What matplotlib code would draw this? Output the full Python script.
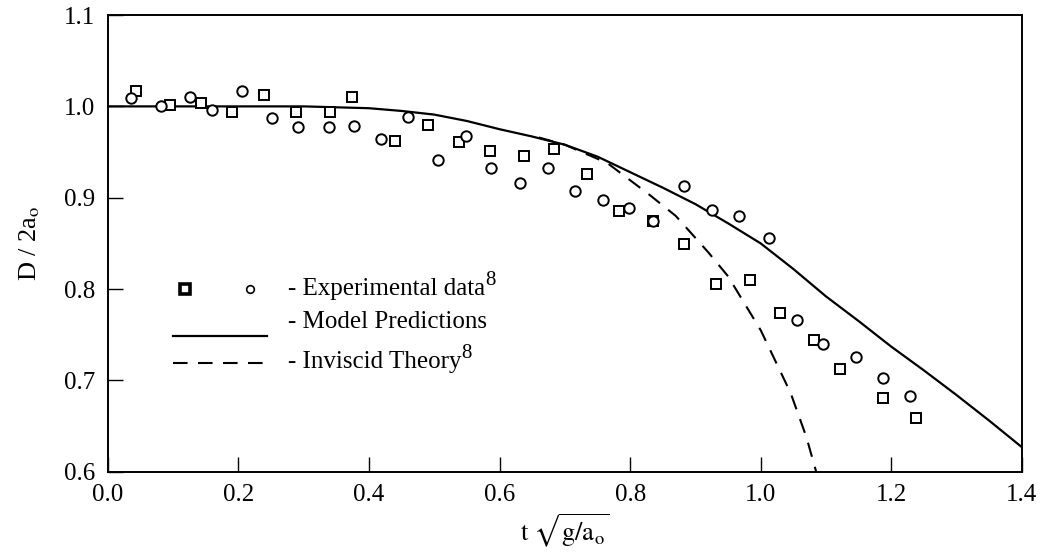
import matplotlib
matplotlib.use('Agg')
import matplotlib.pyplot as plt

plt.rcParams['font.family'] = ['Liberation Serif', 'DejaVu Serif']
plt.rcParams['mathtext.fontset'] = 'stix'

# experimental data, squares
sq_x = [0.043, 0.095, 0.142, 0.190, 0.239, 0.288, 0.340, 0.374, 0.440, 0.491,
        0.538, 0.585, 0.637, 0.684, 0.734, 0.783, 0.835, 0.883, 0.931, 0.983,
        1.030, 1.081, 1.121, 1.188, 1.238]
sq_y = [1.017, 1.002, 1.004, 0.994, 1.012, 0.994, 0.994, 1.010, 0.962, 0.980,
        0.961, 0.951, 0.946, 0.953, 0.926, 0.886, 0.875, 0.849, 0.806, 0.810,
        0.774, 0.744, 0.713, 0.681, 0.659]

# experimental data, circles
ci_x = [0.036, 0.082, 0.125, 0.159, 0.206, 0.251, 0.291, 0.338, 0.377, 0.418,
        0.459, 0.506, 0.549, 0.587, 0.631, 0.674, 0.715, 0.759, 0.799, 0.835,
        0.882, 0.926, 0.967, 1.012, 1.055, 1.096, 1.146, 1.188, 1.228]
ci_y = [1.009, 1.000, 1.010, 0.996, 1.017, 0.987, 0.977, 0.977, 0.978, 0.964,
        0.988, 0.941, 0.968, 0.933, 0.916, 0.933, 0.907, 0.897, 0.889, 0.875,
        0.913, 0.887, 0.880, 0.856, 0.766, 0.740, 0.726, 0.703, 0.683]

# model predictions
model_x = [0.0, 0.1, 0.2, 0.3, 0.4, 0.45, 0.5, 0.55, 0.6, 0.65, 0.7, 0.75, 0.8,
           0.85, 0.9, 0.95, 1.0, 1.05, 1.1, 1.15, 1.2, 1.25, 1.3, 1.35, 1.4]
model_y = [1.000, 1.000, 1.000, 1.000, 0.998, 0.995, 0.991, 0.984, 0.975, 0.967,
           0.958, 0.945, 0.928, 0.911, 0.893, 0.872, 0.850, 0.822, 0.792, 0.765,
           0.737, 0.711, 0.684, 0.656, 0.627]

# inviscid theory
inv_x = [0.66, 0.7, 0.765, 0.83, 0.87, 0.92, 0.95, 1.0, 1.046, 1.07, 1.085]
inv_y = [0.966, 0.958, 0.938, 0.903, 0.880, 0.840, 0.814, 0.755, 0.686, 0.638, 0.600]

fig = plt.figure(figsize=(10.48, 5.57), dpi=100)
ax = fig.add_axes([0.103, 0.153, 0.872, 0.820])

ax.plot(model_x, model_y, color='black', lw=1.6)
ax.plot(inv_x, inv_y, color='black', lw=1.5, dashes=(7, 5))
ax.plot(sq_x, sq_y, ls='none', marker='s', ms=7.5, mfc='white', mec='black', mew=1.4)
ax.plot(ci_x, ci_y, ls='none', marker='o', ms=7.5, mfc='white', mec='black', mew=1.4)

ax.set_xlim(0.0, 1.4)
ax.set_ylim(0.6, 1.1)
ax.set_xticks([0.0, 0.2, 0.4, 0.6, 0.8, 1.0, 1.2, 1.4])
ax.set_yticks([0.6, 0.7, 0.8, 0.9, 1.0, 1.1])
ax.xaxis.set_major_formatter(matplotlib.ticker.FormatStrFormatter('%.1f'))
ax.yaxis.set_major_formatter(matplotlib.ticker.FormatStrFormatter('%.1f'))
ax.tick_params(direction='in', length=11, width=1.0, labelsize=18, pad=9)
for s in ax.spines.values():
    s.set_linewidth(1.4)

ax.set_xlabel(r'$\mathrm{t}\ \sqrt{\mathrm{g/a_o}}$', fontsize=19, labelpad=4)
ax.set_ylabel(r'D / 2a$_\mathrm{o}$', fontsize=19, labelpad=16)

# legend drawn by hand
tr = ax.transAxes
ax.plot([0.084], [0.400], marker='s', ms=7, mfc='white', mec='black', mew=2.6, transform=tr, clip_on=False)
ax.plot([0.155], [0.400], marker='o', ms=5.5, mfc='white', mec='black', mew=1.2, transform=tr, clip_on=False)
t1 = ax.text(0.197, 0.400, '- Experimental data', transform=tr, fontsize=18, va='center')
ax.annotate('8', xy=(1.0, 0.45), xycoords=t1, fontsize=15, va='bottom', ha='left')
ax.plot([0.071, 0.174], [0.297, 0.297], color='black', lw=1.6, transform=tr)
ax.text(0.197, 0.328, '- Model Predictions', transform=tr, fontsize=18, va='center')
ax.plot([0.071, 0.174], [0.238, 0.238], color='black', lw=1.5, dashes=(7, 5), transform=tr)
t3 = ax.text(0.197, 0.240, '- Inviscid Theory', transform=tr, fontsize=18, va='center')
ax.annotate('8', xy=(1.0, 0.45), xycoords=t3, fontsize=15, va='bottom', ha='left')

fig.savefig('out.png', dpi=100)
